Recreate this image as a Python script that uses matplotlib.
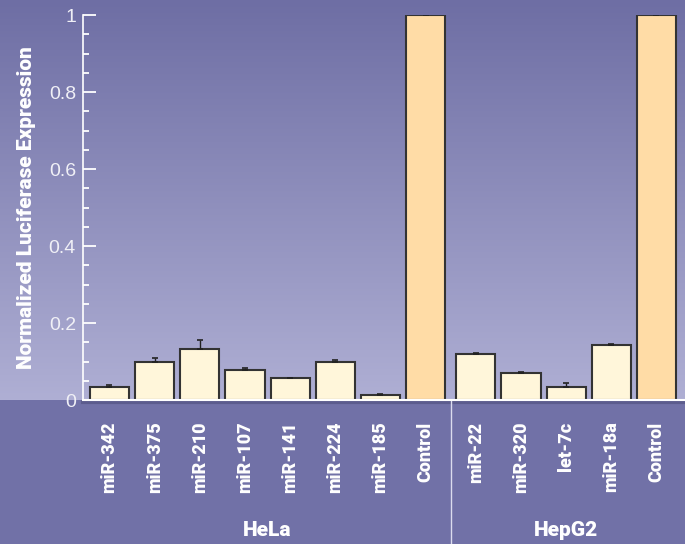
import numpy as np
import matplotlib.pyplot as plt
from matplotlib.ticker import MultipleLocator
from matplotlib.transforms import blended_transform_factory

# data
hela_labels = ["miR-342", "miR-375", "miR-210", "miR-107", "miR-141", "miR-224", "miR-185", "Control"]
hela_values = [0.035, 0.100, 0.132, 0.077, 0.056, 0.098, 0.012, 1.0]
hela_errors = [0.003, 0.010, 0.024, 0.006, 0.002, 0.005, 0.003, 0.005]

hepg2_labels = ["miR-22", "miR-320", "let-7c", "miR-18a", "Control"]
hepg2_values = [0.119, 0.069, 0.034, 0.142, 1.0]
hepg2_errors = [0.003, 0.003, 0.011, 0.003, 0.005]

group_names = ["HeLa", "HepG2"]

narrow = ["Roboto", "DejaVu Sans"]
plt.rcParams["font.family"] = ["Liberation Sans", "DejaVu Sans"]

fig = plt.figure(figsize=(6.85, 5.44), dpi=100)

# background: gradient over the plot part, flat below the axis
bg = fig.add_axes([0, 0, 1, 1], zorder=-10)
bg.set_axis_off()
top_c = np.array([110, 110, 164]) / 255
bot_c = np.array([175, 175, 212]) / 255
low_c = np.array([113, 113, 167]) / 255
h = 544
split = 400
grad = np.zeros((h, 2, 3))
t = np.linspace(0, 1, split)[:, None]
grad[:split] = (top_c * (1 - t) + bot_c * t)[:, None, :]
grad[split:] = low_c
bg.imshow(grad, aspect="auto", extent=[0, 1, 0, 1])

ax = fig.add_axes([0.121, 0.2647, 0.879, 0.7077])
ax.set_facecolor("none")

gap = 0.111
x1 = np.arange(len(hela_labels))
x2 = np.arange(len(hepg2_labels)) + len(hela_labels) + gap
xs = np.concatenate([x1, x2])
values = hela_values + hepg2_values
errors = hela_errors + hepg2_errors
labels = hela_labels + hepg2_labels

colors = []
for lab in labels:
    colors.append("#FFDCA6" if lab == "Control" else "#FFF6DA")

ax.bar(xs, values, width=0.867, color=colors, edgecolor="#333333", linewidth=1.5, zorder=3)
ax.errorbar(xs, values, yerr=[np.zeros(len(errors)), errors], fmt="none",
            ecolor="#222222", elinewidth=1, capsize=2.5, capthick=1.2, zorder=4)

ax.set_xlim(-0.589, 12.744)
ax.set_ylim(0, 1.0)

ax.set_xticks(xs)
ax.set_xticklabels(labels, rotation=90, color="white", fontweight="heavy",
                   fontsize=13, family=narrow)
ax.tick_params(axis="x", length=0, pad=15.5)

ax.yaxis.set_major_locator(MultipleLocator(0.2))
ax.yaxis.set_minor_locator(MultipleLocator(0.05))
ax.set_yticks([0, 0.2, 0.4, 0.6, 0.8, 1.0])
ax.set_yticklabels(["0", "0.2", "0.4", "0.6", "0.8", "1"])
ax.tick_params(axis="y", which="major", direction="in", length=9, width=1.3,
               color="white", labelcolor="#f0f0f6", labelsize=14, pad=5)
ax.tick_params(axis="y", which="minor", direction="in", length=4.5, width=1.3, color="white")

for s in ["top", "right"]:
    ax.spines[s].set_visible(False)
ax.spines["left"].set_color("white")
ax.spines["left"].set_linewidth(1.2)
ax.spines["bottom"].set_color("white")
ax.spines["bottom"].set_linewidth(1.5)
ax.spines["bottom"].set_zorder(5)

ax.set_ylabel("Normalized Luciferase Expression", color="white", fontweight="heavy",
              fontsize=15, family=narrow, labelpad=9)

tr = blended_transform_factory(ax.transData, ax.transAxes)

# faint shadow under the base line
ax.plot([-0.589, 12.744], [-0.006, -0.006], transform=tr, color="#5c5c8e", lw=3,
        clip_on=False, zorder=2)

# separator between the two cell lines
sep = (x1[-1] + x2[0]) / 2
ax.plot([sep, sep], [0, -0.374], transform=tr, color="#dcdcee", lw=1, clip_on=False)

ax.text(x1.mean(), -0.340, group_names[0], transform=tr, ha="center", va="center",
        color="white", fontweight="heavy", fontsize=15, family=narrow)
ax.text(x2.mean(), -0.340, group_names[1], transform=tr, ha="center", va="center",
        color="white", fontweight="heavy", fontsize=15, family=narrow)

fig.savefig("out.png", dpi=100)
